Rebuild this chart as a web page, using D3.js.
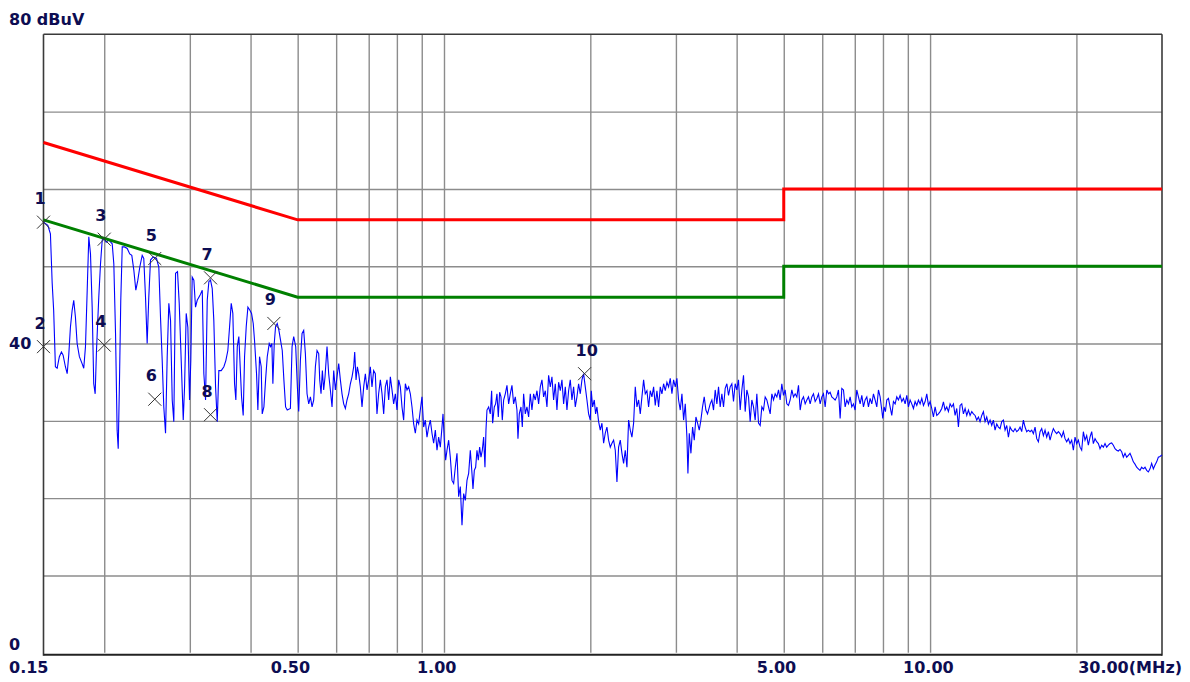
<!DOCTYPE html>
<html><head><meta charset="utf-8">
<script src="https://cdn.jsdelivr.net/npm/d3@7"></script>
<style>html,body{margin:0;padding:0;background:#fff;} svg{display:block;}</style>
</head><body><svg id="c" width="1190" height="682"></svg>
<script>
// ---------- data ----------
const xTickLabels = [[0.15,"0.15"],[0.5,"0.50"],[1,"1.00"],[5,"5.00"],[10,"10.00"],[30,"30.00(MHz)"]];
const yTickLabels = [[80,"80 dBuV"],[40,"40"],[0,"0"]];
const gridFreqs = [0.2,0.3,0.4,0.5,0.6,0.7,0.8,0.9,1,2,3,4,5,6,7,8,9,10,20];
const gridLevels = [10,20,30,40,50,60,70];
const qpLimit = [[0.15,66],[0.5,56],[5,56],[5,60],[30,60]];
const avLimit = [[0.15,56],[0.5,46],[5,46],[5,50],[30,50]];
const markers = [[1,0.150,55.7],[2,0.150,39.6],[3,0.200,53.5],[4,0.200,39.8],[5,0.2541,51.0],[6,0.2541,32.8],[7,0.3309,48.5],[8,0.3309,30.8],[9,0.4467,42.6],[10,1.9464,36.1]];
const trace = [
[0.1500,55.7],[0.1531,55.3],[0.1550,54.2],[0.1563,47.8],[0.1574,44.3],[0.1587,37.0],[0.1600,36.8],[0.1617,38.3],[0.1633,38.9],[0.1646,38.5],[0.1664,37.0],[0.1678,36.1],[0.1691,38.6],[0.1704,42.1],[0.1718,44.3],[0.1731,45.6],[0.1745,43.4],[0.1759,40.0],[0.1778,38.3],[0.1801,37.4],[0.1815,36.8],[0.1830,39.6],[0.1845,46.9],[0.1859,53.8],[0.1874,51.6],[0.1889,44.7],[0.1903,34.8],[0.1916,33.5],[0.1928,39.1],[0.1949,46.0],[0.1965,50.3],[0.1981,53.4],[0.1996,53.6],[0.2019,53.1],[0.2044,53.4],[0.2077,52.9],[0.2093,50.3],[0.2110,41.3],[0.2126,28.8],[0.2137,26.4],[0.2150,35.3],[0.2163,45.6],[0.2178,52.5],[0.2202,52.5],[0.2230,52.3],[0.2257,51.6],[0.2279,51.4],[0.2301,49.5],[0.2323,46.9],[0.2345,48.2],[0.2367,49.9],[0.2394,51.4],[0.2412,51.0],[0.2432,46.0],[0.2451,40.0],[0.2470,46.0],[0.2490,50.8],[0.2522,51.2],[0.2562,51.0],[0.2590,49.9],[0.2611,43.4],[0.2632,37.8],[0.2652,31.8],[0.2674,28.4],[0.2695,38.3],[0.2716,45.2],[0.2738,43.0],[0.2760,32.7],[0.2781,29.9],[0.2804,49.1],[0.2830,49.3],[0.2853,45.2],[0.2880,37.8],[0.2908,30.1],[0.2926,34.4],[0.2949,43.9],[0.2972,42.1],[0.2996,32.7],[0.3014,37.8],[0.3034,48.6],[0.3058,48.2],[0.3082,44.7],[0.3107,45.6],[0.3146,46.2],[0.3182,46.9],[0.3206,36.1],[0.3232,32.7],[0.3258,45.6],[0.3283,48.0],[0.3309,48.2],[0.3336,47.1],[0.3361,43.0],[0.3389,34.4],[0.3416,29.9],[0.3442,36.5],[0.3481,36.5],[0.3525,37.0],[0.3558,37.8],[0.3592,39.1],[0.3621,42.1],[0.3650,45.2],[0.3678,43.9],[0.3708,34.8],[0.3731,32.7],[0.3756,39.6],[0.3784,40.9],
[0.3833,33.1],[0.3863,30.7],[0.3888,38.3],[0.3919,42.2],[0.3950,44.7],[0.3987,44.3],[0.4019,43.9],[0.4051,42.6],[0.4076,40.4],[0.4115,36.1],[0.4141,31.4],[0.4174,38.3],[0.4207,37.0],[0.4227,30.9],[0.4261,31.8],[0.4295,35.3],[0.4329,38.3],[0.4370,40.0],[0.4398,39.6],[0.4425,40.0],[0.4446,34.8],[0.4475,40.0],[0.4503,42.2],[0.4539,42.6],[0.4575,41.7],[0.4611,40.4],[0.4648,39.1],[0.4684,35.3],[0.4722,31.8],[0.4759,31.4],[0.4831,31.6],[0.4869,39.6],[0.4907,40.9],[0.4954,39.6],[0.4993,34.4],[0.5025,31.2],[0.5065,37.8],[0.5105,41.3],[0.5145,41.7],[0.5186,38.7],[0.5227,33.5],[0.5269,32.2],[0.5311,33.1],[0.5353,31.8],[0.5395,32.7],[0.5438,37.0],[0.5481,39.1],[0.5524,38.7],[0.5551,35.3],[0.5585,33.5],[0.5621,36.5],[0.5656,34.0],[0.5692,35.7],[0.5746,39.6],[0.5791,36.1],[0.5838,34.0],[0.5884,31.8],[0.5931,36.5],[0.5978,34.0],[0.6025,35.7],[0.6073,37.4],[0.6121,35.3],[0.6169,33.5],[0.6218,32.2],[0.6268,31.6],[0.6317,32.7],[0.6367,33.5],[0.6418,34.8],[0.6469,35.7],[0.6520,37.0],[0.6551,38.9],[0.6593,35.3],[0.6634,37.0],[0.6676,36.1],[0.6729,34.4],[0.6782,31.8],[0.6836,34.4],[0.6890,36.1],[0.6945,34.0],[0.7000,35.3],[0.7054,37.0],[0.7110,34.4],[0.7166,36.5],[0.7223,36.1],[0.7280,30.9],[0.7338,33.5],[0.7397,35.3],[0.7456,33.5],[0.7515,30.9],[0.7574,34.4],[0.7634,35.3],[0.7695,32.7],[0.7756,35.7],[0.7817,34.0],[0.7879,32.2],[0.7942,33.5],[0.8005,31.4],[0.8068,35.3],[0.8132,34.4],[0.8196,31.8],[0.8261,30.1],[0.8327,34.8],[0.8393,34.0],[0.8459,34.4],[0.8526,33.5],[0.8594,31.8],[0.8662,29.6],[0.8730,28.4],[0.8799,30.1],[0.8869,29.6],[0.8939,31.4],[0.9010,33.1],[0.9081,29.2],[0.9153,30.1],[0.9226,27.9],[0.9299,29.2],[0.9373,30.1],[0.9447,28.4],[0.9522,27.1],[0.9598,28.8],[0.9674,26.2],[0.9750,27.9],[0.9828,26.6],[0.9906,29.2],[0.9953,30.9],[1.0016,27.5],[1.0079,24.9],[1.0143,26.2],[1.0223,27.5],[1.0304,25.3],[1.0386,22.3],[1.0468,21.9],[1.0551,24.0],[1.0635,25.8],[1.0719,20.2],[1.0804,21.5],[1.0890,16.5],[1.0976,20.6],[1.1063,19.7],[1.1151,22.3],[1.1239,23.2],[1.1328,26.2],
[1.1418,23.2],[1.1472,21.2],[1.1545,23.6],[1.1618,24.0],[1.1691,26.2],[1.1765,24.9],[1.1840,26.6],[1.1915,25.3],[1.1990,26.2],[1.2066,27.9],[1.2142,24.0],[1.2200,28.8],[1.2258,31.4],[1.2355,31.8],[1.2453,30.9],[1.2532,33.9],[1.2591,29.7],[1.2691,31.8],[1.2771,32.2],[1.2852,33.5],[1.2934,30.5],[1.3016,33.7],[1.3098,33.1],[1.3181,30.1],[1.3265,32.7],[1.3370,33.5],[1.3476,34.6],[1.3582,32.2],[1.3690,33.5],[1.3798,34.6],[1.3908,32.2],[1.4018,33.1],[1.4129,31.4],[1.4196,27.7],[1.4286,30.9],[1.4400,31.8],[1.4491,29.2],[1.4582,33.5],[1.4698,30.9],[1.4814,31.8],[1.4932,30.5],[1.5050,33.5],[1.5169,31.4],[1.5289,33.5],[1.5411,32.7],[1.5533,33.9],[1.5656,32.2],[1.5780,34.4],[1.5905,35.3],[1.6031,33.1],[1.6158,33.9],[1.6286,31.8],[1.6415,35.9],[1.6545,34.4],[1.6676,35.7],[1.6808,32.7],[1.6941,34.8],[1.7076,31.4],[1.7211,35.0],[1.7348,33.9],[1.7485,35.3],[1.7624,32.2],[1.7764,34.4],[1.7904,31.4],[1.8046,33.9],[1.8189,35.3],[1.8333,32.7],[1.8478,34.4],[1.8625,31.8],[1.8772,33.1],[1.8921,34.8],[1.9071,33.5],[1.9222,35.3],[1.9374,36.1],[1.9528,34.4],[1.9683,32.7],[1.9839,30.9],[1.9996,30.1],[2.0091,33.9],[2.0218,31.8],[2.0378,32.7],[2.0507,30.9],[2.0637,31.8],[2.0801,29.9],[2.0966,28.8],[2.1132,29.7],[2.1300,27.1],[2.1468,28.4],[2.1638,29.2],[2.1810,27.5],[2.1983,26.6],[2.2157,27.1],[2.2333,27.5],[2.2510,26.2],[2.2688,22.1],[2.2867,26.6],[2.3049,27.5],[2.3232,25.8],[2.3416,24.5],[2.3601,26.2],[2.3788,24.0],[2.3977,30.1],[2.4167,28.8],[2.4358,27.9],[2.4552,29.7],[2.4746,34.4],[2.4943,31.8],[2.5140,32.7],[2.5339,30.9],[2.5540,33.1],[2.5742,35.3],[2.5946,33.5],[2.6152,33.9],[2.6359,31.8],[2.6568,33.9],[2.6778,33.1],[2.6991,34.4],[2.7205,32.0],[2.7420,33.9],[2.7637,31.8],[2.7856,34.4],[2.8077,33.5],[2.8299,34.8],[2.8524,33.9],[2.8750,35.0],[2.8977,34.4],[2.9207,35.5],[2.9438,33.5],[2.9672,35.3],[2.9906,34.4],[3.0143,35.5],[3.0382,32.7],[3.0624,31.4],[3.0867,33.5],[3.1111,30.1],[3.1358,32.2],[3.1606,27.9],[3.1756,23.2],[3.1957,28.4],[3.2211,25.8],[3.2465,29.2],[3.2723,27.5],[3.2982,30.5],[3.3243,29.7],[3.3507,28.8],[3.3767,30.1],[3.4034,31.8],[3.4304,33.1],[3.4576,31.4],[3.4849,30.9],
[3.5291,32.2],[3.5571,32.7],[3.5853,31.4],[3.6136,34.0],[3.6423,32.2],[3.6711,34.4],[3.7002,31.8],[3.7295,33.5],[3.7591,31.8],[3.7888,34.2],[3.8189,34.8],[3.8491,33.3],[3.8792,34.4],[3.9099,34.8],[3.9409,32.5],[3.9722,34.8],[4.0036,34.0],[4.0353,35.3],[4.0677,31.4],[4.0999,34.0],[4.1324,35.9],[4.1651,31.2],[4.1981,34.0],[4.2314,33.1],[4.2649,29.9],[4.2987,32.7],[4.3328,31.8],[4.3671,30.1],[4.4017,33.5],[4.4365,29.7],[4.4716,29.4],[4.5070,31.8],[4.5427,31.4],[4.5787,33.1],[4.6150,32.7],[4.6515,31.8],[4.6888,30.9],[4.7259,33.5],[4.7634,32.7],[4.8011,33.5],[4.8392,33.1],[4.8775,34.0],[4.9154,32.7],[4.9543,34.8],[4.9936,33.3],[5.0332,34.0],[5.0730,32.2],[5.1132,32.0],[5.1542,32.7],[5.1950,34.0],[5.2362,33.1],[5.2777,33.5],[5.3195,33.1],[5.3616,34.6],[5.4043,31.4],[5.4471,32.7],[5.4903,33.1],[5.5338,32.2],[5.5776,32.7],[5.6218,33.1],[5.6662,32.2],[5.7111,33.1],[5.7564,33.5],[5.8020,32.5],[5.8480,32.9],[5.8942,33.5],[5.9411,32.2],[5.9882,33.1],[6.0356,33.5],[6.0834,31.8],[6.1316,34.0],[6.1802,33.5],[6.2285,33.7],[6.2778,33.1],[6.3276,32.9],[6.3777,32.7],[6.4282,33.1],[6.4792,34.0],[6.5311,30.3],[6.5828,34.2],[6.6350,34.0],[6.6876,31.8],[6.7406,32.7],[6.7939,32.2],[6.8471,33.1],[6.9013,31.8],[6.9560,32.2],[7.0111,31.4],[7.0667,34.0],[7.1226,33.1],[7.1798,32.2],[7.2367,33.3],[7.2940,31.8],[7.3518,32.7],[7.4100,33.1],[7.4687,31.8],[7.5276,32.9],[7.5872,32.2],[7.6474,33.5],[7.7080,32.7],[7.7690,31.8],[7.8305,34.0],[7.8922,33.1],[7.9547,31.4],[7.9924,30.3],[8.0431,31.8],[8.0940,31.2],[8.1453,32.7],[8.2097,32.9],[8.2753,31.8],[8.3408,30.7],[8.4070,32.5],[8.4736,32.2],[8.5406,33.1],[8.6084,32.7],[8.6772,33.3],[8.7459,32.5],[8.8153,32.9],[8.8851,32.2],[8.9555,33.3],[9.0264,31.8],[9.0975,32.7],[9.1696,32.2],[9.2422,31.6],[9.3154,32.5],[9.3892,32.0],[9.4636,32.7],[9.5391,32.2],[9.6147,32.9],[9.6909,32.0],[9.7677,32.5],[9.8451,33.5],[9.9230,32.0],[10.001,32.5],[10.080,31.6],[10.160,30.5],[10.241,31.8],[10.322,30.7],[10.404,30.9],
[10.486,31.2],[10.569,31.6],[10.653,32.45],[10.737,31.4],[10.822,31.8],[10.908,31.2],[10.995,32.2],[11.082,31.8],[11.170,32.2],[11.258,30.7],[11.347,31.6],[11.437,29.2],[11.528,32.0],[11.619,32.2],[11.711,30.9],[11.804,31.6],[11.898,30.7],[11.992,31.4],[12.087,30.7],[12.183,31.2],[12.279,30.9],[12.377,30.7],[12.475,30.1],[12.573,30.5],[12.672,29.9],[12.772,30.7],[12.874,31.2],[12.976,29.9],[13.078,30.5],[13.182,29.6],[13.287,30.1],[13.392,29.4],[13.498,30.1],[13.605,28.8],[13.713,29.6],[13.822,29.2],[13.932,29.0],[14.042,29.9],[14.154,30.1],[14.266,28.8],[14.379,29.4],[14.493,27.9],[14.606,29.2],[14.722,28.8],[14.838,28.6],[14.956,29.0],[15.074,28.6],[15.194,28.8],[15.314,29.2],[15.435,28.6],[15.558,30.1],[15.681,29.2],[15.805,28.6],[15.930,28.8],[16.058,28.6],[16.185,28.8],[16.313,28.35],[16.443,29.2],[16.573,27.7],[16.704,27.3],[16.836,28.6],[16.969,29.0],[17.104,28.1],[17.239,28.8],[17.376,27.9],[17.514,28.6],[17.652,27.5],[17.792,28.35],[17.933,29.0],[18.075,28.6],[18.218,28.35],[18.362,28.6],[18.508,28.35],[18.655,27.9],[18.803,28.6],[18.952,27.7],[19.102,27.3],[19.253,27.7],[19.405,27.06],[19.559,27.5],[19.714,26.2],[19.870,27.9],[20.027,27.06],[20.186,27.5],[20.346,26.6],[20.507,26.2],[20.670,28.6],[20.833,27.5],[20.998,28.1],[21.165,26.85],[21.333,27.9],[21.502,28.6],[21.672,27.06],[21.844,27.7],[22.017,27.3],[22.192,27.06],[22.367,26.4],[22.544,26.85],[22.723,26.6],[22.903,27.06],[23.084,26.6],[23.267,26.85],[23.451,27.06],[23.637,27.15],[23.824,26.85],[24.013,26.4],[24.203,26.2],[24.395,26.1],[24.589,26.3],[24.784,26.0],[24.980,25.3],[25.178,25.8],[25.377,25.3],[25.578,25.55],[25.781,25.8],[25.985,25.3],[26.191,24.7],[26.398,24.4],[26.608,24.0],[26.818,23.8],[27.031,23.6],[27.245,24.0],[27.461,23.8],[27.679,24.0],[27.898,23.6],[28.119,23.4],[28.343,23.8],[28.567,24.5],[28.794,23.8],[29.022,24.3],[29.252,24.7],[29.484,25.3],[29.717,25.4],[30.0,25.6]
];

// ---------- drawing ----------
const svg = d3.select("#c");
const L = 43.5, R = 1162, T = 34.3, B = 652.8;
const x = d3.scaleLog().domain([0.15, 30]).range([L, R]);
const y = d3.scaleLinear().domain([0, 80]).range([B, T]);
const FONT = "'DejaVu Sans', Arial, sans-serif";
const TXT = "#0d0d52";

svg.append("rect").attr("width",1190).attr("height",682).attr("fill","#fff");

// grid via axes
const gx = svg.append("g").attr("transform", `translate(0,${B})`)
  .call(d3.axisBottom(x).tickValues(gridFreqs).tickSize(-(B - T)).tickFormat(""));
const gy = svg.append("g").attr("transform", `translate(${L},0)`)
  .call(d3.axisLeft(y).tickValues(gridLevels).tickSize(-(R - L)).tickFormat(""));
[gx, gy].forEach(g => {
  g.select(".domain").remove();
  g.selectAll(".tick line").attr("stroke", "#8c8c8c").attr("stroke-width", 1.4);
});

// frame
const frame = svg.append("g").attr("fill","none").attr("stroke","#3a3a3a");
frame.append("line").attr("x1",L).attr("x2",R).attr("y1",T).attr("y2",T).attr("stroke-width",1.5);
frame.append("line").attr("x1",L).attr("x2",L).attr("y1",T).attr("y2",y(0)+3).attr("stroke-width",1.6);
frame.append("line").attr("x1",R).attr("x2",R).attr("y1",T).attr("y2",y(0)+3).attr("stroke-width",1.6);
frame.append("line").attr("x1",L).attr("x2",R).attr("y1",y(0)+2).attr("y2",y(0)+2).attr("stroke-width",2).attr("stroke","#222");

const line = d3.line().x(d => x(d[0])).y(d => y(d[1]));

// trace
svg.append("path").datum(trace).attr("d", line)
  .attr("fill","none").attr("stroke","#0000ff").attr("stroke-width",1.1).attr("stroke-linejoin","miter");

// limit lines
svg.append("path").datum(qpLimit).attr("d", line).attr("fill","none").attr("stroke","#ff0000").attr("stroke-width",3);
svg.append("path").datum(avLimit).attr("d", line).attr("fill","none").attr("stroke","#008000").attr("stroke-width",3);

// markers
const mk = svg.append("g");
markers.forEach(([n,f,v]) => {
  const cx = x(f), cy = y(v), s = 6.5;
  mk.append("path").attr("d", `M${cx-s},${cy-s}L${cx+s},${cy+s}M${cx-s},${cy+s}L${cx+s},${cy-s}`)
    .attr("stroke","#333").attr("stroke-width",1).attr("fill","none");
  mk.append("text").attr("x", cx - 9).attr("y", cy - 18).text(n)
    .attr("font-family",FONT).attr("font-weight","bold").attr("font-size",16).attr("fill",TXT);
});

// y labels
yTickLabels.forEach(([v,t]) => {
  const yy = v === 80 ? 25 : (v === 0 ? y(v) - 3 : y(v) + 5);
  svg.append("text").attr("x", 9).attr("y", yy).text(t)
    .attr("font-family",FONT).attr("font-weight","bold").attr("font-size",16).attr("fill",TXT);
});

// x labels
xTickLabels.forEach(([f,t], i) => {
  const txt = svg.append("text").attr("y", 673).text(t)
    .attr("font-family",FONT).attr("font-weight","bold").attr("font-size",16).attr("fill",TXT);
  if (i === 0) txt.attr("x", x(f) - 34.5);
  else if (i === xTickLabels.length - 1) txt.attr("x", x(f) + 20).attr("text-anchor","end");
  else txt.attr("x", x(f) - 27);
});
</script>
</body></html>
